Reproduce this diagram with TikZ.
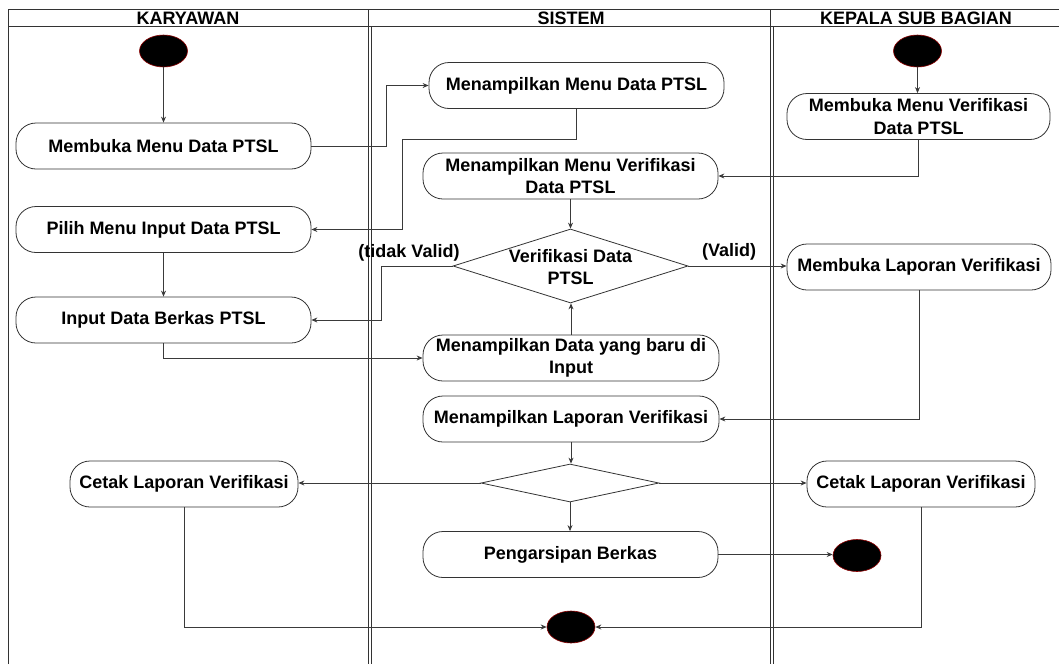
\documentclass[tikz,border=0pt]{standalone}
\usepackage{fontspec}
\setmainfont{Liberation Sans}
\usetikzlibrary{shapes.geometric,arrows.meta,calc}
\definecolor{linec}{HTML}{333333}
\definecolor{wirec}{HTML}{3A3A3A}
\begin{document}
\begin{tikzpicture}[x=1pt,y=-1pt,
  txt/.style={font=\bfseries\fontsize{18}{22.5}\selectfont, text=black},
  act/.style={txt, draw=linec, line width=0.8pt, rounded corners=20pt,
    minimum height=46pt, inner sep=0pt, align=center, fill=white},
  dec/.style={diamond, draw=linec, line width=0.8pt, inner sep=0pt, fill=white},
  terminal/.style={ellipse, fill=black, draw=red!55!black, line width=0.6pt,
    minimum width=48pt, minimum height=32pt, inner sep=0pt},
  lane/.style={draw=linec, line width=0.9pt},
  arr/.style={draw=wirec, line width=0.8pt, -{Stealth[length=6pt,width=5pt]}},
  lbl/.style={txt, inner sep=0pt}]
\useasboundingbox (0,0) rectangle (1059,664);

% swimlane frame
\draw[lane] (8,664) -- (8,9) -- (1059,9);
\draw[lane] (8,26) -- (1059,26);
\draw[lane] (368,9) -- (368,664);
\draw[lane] (371.7,26) -- (371.7,664);
\draw[lane] (770,9) -- (770,664);
\draw[lane] (773,26) -- (773,664);
\node[lbl] (hk) at (188,18) {KARYAWAN};
\node[lbl] (hs) at (571,18) {SISTEM};
\node[lbl] (hb) at (916,18) {KEPALA SUB BAGIAN};

% KARYAWAN lane
\node[terminal] (startK) at (163.5,51) {};
\node[act, minimum width=295pt] (mbk) at (163.5,146) {Membuka Menu Data PTSL};
\node[act, minimum width=295pt] (pilih) at (163.5,229.5) {Pilih Menu Input Data PTSL};
\node[act, minimum width=295pt] (ibk) at (163.5,320) {Input Data Berkas PTSL};
\node[act, minimum width=228pt] (cetakL) at (184,484) {Cetak Laporan Verifikasi};

% SISTEM lane
\node[act, minimum width=295pt] (mdp) at (576.5,85.5) {Menampilkan Menu Data PTSL};
\node[act, minimum width=295pt] (mvd) at (570.5,176) {Menampilkan Menu Verifikasi\\Data PTSL};
\node[dec, minimum width=235pt, minimum height=74pt] (d1) at (570.5,266) {};
\node[lbl, align=center] (d1t) at (570.5,267) {Verifikasi Data\\PTSL};
\node[act, minimum width=296pt] (mdb) at (571,358) {Menampilkan Data yang baru di\\Input};
\node[act, minimum width=296pt] (mlap) at (571,419) {Menampilkan Laporan Verifikasi};
\node[dec, minimum width=178pt, minimum height=38pt] (d2) at (570,483) {};
\node[act, minimum width=295pt] (arsip) at (570.5,554.5) {Pengarsipan Berkas};
\node[terminal] (endC) at (571,627) {};

% KEPALA SUB BAGIAN lane
\node[terminal] (startB) at (917.5,51) {};
\node[act, minimum width=263pt] (mmv) at (918.5,116.5) {Membuka Menu Verifikasi\\Data PTSL};
\node[act, minimum width=264pt] (mlv) at (919,267) {Membuka Laporan Verifikasi};
\node[act, minimum width=228pt] (cetakR) at (921,484) {Cetak Laporan Verifikasi};
\node[terminal] (endR) at (857,555.5) {};

% guard labels
\node[lbl] (gtv) at (409,253) {(tidak Valid)};
\node[lbl] (gv) at (729,252) {(Valid)};

% flows
\draw[arr] (startK) -- (mbk);
\draw[arr] (mbk.east) -- ++(75,0) |- (mdp.west);
\draw[arr] (mdp.south) -- ++(0,30) -| ($(pilih.east)+(91,0)$) -- (pilih.east);
\draw[arr] (pilih) -- (ibk);
\draw[arr] (ibk.south) |- (mdb.west);
\draw[arr] (mdb.north) -- (mdb.north |- d1.south);
\draw[arr] (d1.west) -| ($(ibk.east)+(70,0)$) -- (ibk.east);
\draw[arr] (d1.east) -- (d1.east -| mlv.west);
\draw[arr] (startB) -- (startB |- mmv.north);
\draw[arr] (mmv.south) |- (mvd.east);
\draw[arr] (mvd.south) -- (mvd.south |- d1.north);
\draw[arr] (mlv.south) |- (mlap.east);
\draw[arr] (mlap.south) -- (mlap.south |- d2.north);
\draw[arr] (d2.west) -- (d2.west -| cetakL.east);
\draw[arr] (d2.east) -- (d2.east -| cetakR.west);
\draw[arr] (d2.south) -- (d2.south |- arsip.north);
\draw[arr] (arsip.east) -- (arsip.east -| endR.west);
\draw[arr] (cetakL.south) |- (endC.west);
\draw[arr] (cetakR.south) |- (endC.east);
\end{tikzpicture}
\end{document}
